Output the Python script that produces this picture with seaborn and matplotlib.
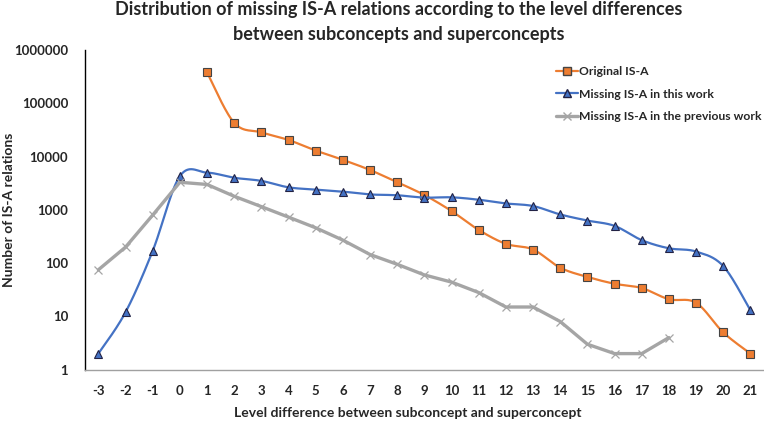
import numpy as np
import pandas as pd
import matplotlib
matplotlib.use("Agg")
import matplotlib.pyplot as plt
from matplotlib.lines import Line2D
import seaborn as sns

# level difference categories
levels = list(range(-3, 22))

# values (log scale)
original_levels = list(range(1, 22))
original_isa = [380000, 43000, 28500, 20500, 13000, 8700, 5600, 3300, 1900, 950,
                420, 230, 180, 82, 55, 41, 34, 21, 18, 5, 2]

this_work = [2, 12, 170, 4300, 5000, 4000, 3500, 2650, 2400, 2200, 1950, 1880, 1700,
             1720, 1550, 1320, 1180, 820, 630, 500, 270, 190, 165, 88, 13]

prev_levels = list(range(-3, 19))
prev_work = [75, 200, 800, 3300, 3000, 1800, 1150, 730, 460, 270, 145, 95, 60, 44,
             28, 15, 15, 8, 3, 2, 2, 4]

ORANGE = "#ED7D31"
BLUE = "#4472C4"
GRAY = "#A5A5A5"


def smooth(xs, ys, n=30):
    # Excel-style smoothed line: cubic Bezier with Catmull-Rom control points, in log space
    x = np.asarray(xs, float)
    y = np.log10(np.asarray(ys, float))
    px, py = [], []
    for i in range(len(x) - 1):
        i0, i3 = max(i - 1, 0), min(i + 2, len(x) - 1)
        c1x = x[i] + (x[i + 1] - x[i0]) / 6
        c1y = y[i] + (y[i + 1] - y[i0]) / 6
        c2x = x[i + 1] - (x[i3] - x[i]) / 6
        c2y = y[i + 1] - (y[i3] - y[i]) / 6
        t = np.linspace(0, 1, n)
        b0, b1, b2, b3 = (1 - t) ** 3, 3 * (1 - t) ** 2 * t, 3 * (1 - t) * t ** 2, t ** 3
        px.extend(b0 * x[i] + b1 * c1x + b2 * c2x + b3 * x[i + 1])
        py.extend(b0 * y[i] + b1 * c1y + b2 * c2y + b3 * y[i + 1])
    return pd.DataFrame({"x": px, "y": 10 ** np.array(py)})


sns.set_theme(style="white")
plt.rcParams["font.family"] = ["Lato", "DejaVu Sans"]

fig = plt.figure(figsize=(7.64, 4.21), dpi=100)
ax = fig.add_axes([0.111, 0.122, 0.889, 0.759])

# orange: smoothed line + square markers
sns.lineplot(data=smooth(original_levels, original_isa), x="x", y="y", sort=False,
             estimator=None, color=ORANGE, linewidth=1.6, ax=ax)
ax.plot(original_levels, original_isa, linestyle="none", marker="s", markersize=5.5,
        markerfacecolor=ORANGE, markeredgecolor="#444444", markeredgewidth=0.8)

# blue: smoothed line + triangle markers
sns.lineplot(data=smooth(levels, this_work), x="x", y="y", sort=False,
             estimator=None, color=BLUE, linewidth=1.6, ax=ax)
ax.plot(levels, this_work, linestyle="none", marker="^", markersize=6,
        markerfacecolor=BLUE, markeredgecolor="#222244", markeredgewidth=0.8)

# gray: straight segments with x markers
sns.lineplot(x=prev_levels, y=prev_work, color=GRAY, linewidth=2.4, marker="x",
             markersize=6, markeredgecolor=GRAY, markeredgewidth=0.9, ax=ax)

ax.set_yscale("log")
ax.set_ylim(1, 1000000)
ax.set_xlim(-3.5, 21.5)
ax.set_yticks([1, 10, 100, 1000, 10000, 100000, 1000000])
ax.set_yticklabels(["1", "10", "100", "1000", "10000", "100000", "1000000"])
ax.yaxis.set_minor_locator(matplotlib.ticker.NullLocator())
ax.set_xticks(levels)
ax.set_xticklabels([str(v) for v in levels])
ax.tick_params(axis="x", length=0, labelsize=9.5, pad=11)
ax.tick_params(axis="y", length=0, labelsize=9.5, pad=12)
for lab in ax.get_xticklabels() + ax.get_yticklabels():
    lab.set_fontweight("bold")

for s in ["top", "right"]:
    ax.spines[s].set_visible(False)
ax.spines["left"].set_color("black")
ax.spines["left"].set_linewidth(1.0)
ax.spines["bottom"].set_color("#A0A0A0")
ax.spines["bottom"].set_linewidth(1.0)

ax.set_xlabel("Level difference between subconcept and superconcept",
              fontsize=10, fontweight="bold")
ax.xaxis.set_label_coords(0.475, -0.118)
ax.set_ylabel("Number of IS-A relations", fontsize=10, fontweight="bold")
ax.yaxis.set_label_coords(-0.103, 0.5)

fig.text(0.522, 0.998,
         "Distribution of missing IS-A relations according to the level differences\n"
         "between subconcepts and superconcepts",
         ha="center", va="top", fontsize=13, fontweight="bold", linespacing=1.55)

handles = [
    Line2D([], [], color=ORANGE, linewidth=1.6, marker="s", markersize=5.5,
           markerfacecolor=ORANGE, markeredgecolor="#444444"),
    Line2D([], [], color=BLUE, linewidth=1.6, marker="^", markersize=6,
           markerfacecolor=BLUE, markeredgecolor="#222244"),
    Line2D([], [], color=GRAY, linewidth=2.4, marker="x", markersize=6,
           markeredgecolor=GRAY),
]
ax.legend(handles, ["Original IS-A", "Missing IS-A in this work",
                    "Missing IS-A in the previous work"],
          loc="upper left", bbox_to_anchor=(0.678, 0.985), frameon=False,
          prop={"weight": "bold", "size": 8.7}, handlelength=1.8,
          handletextpad=0.1, labelspacing=0.98)

fig.savefig("out.png", dpi=100)
